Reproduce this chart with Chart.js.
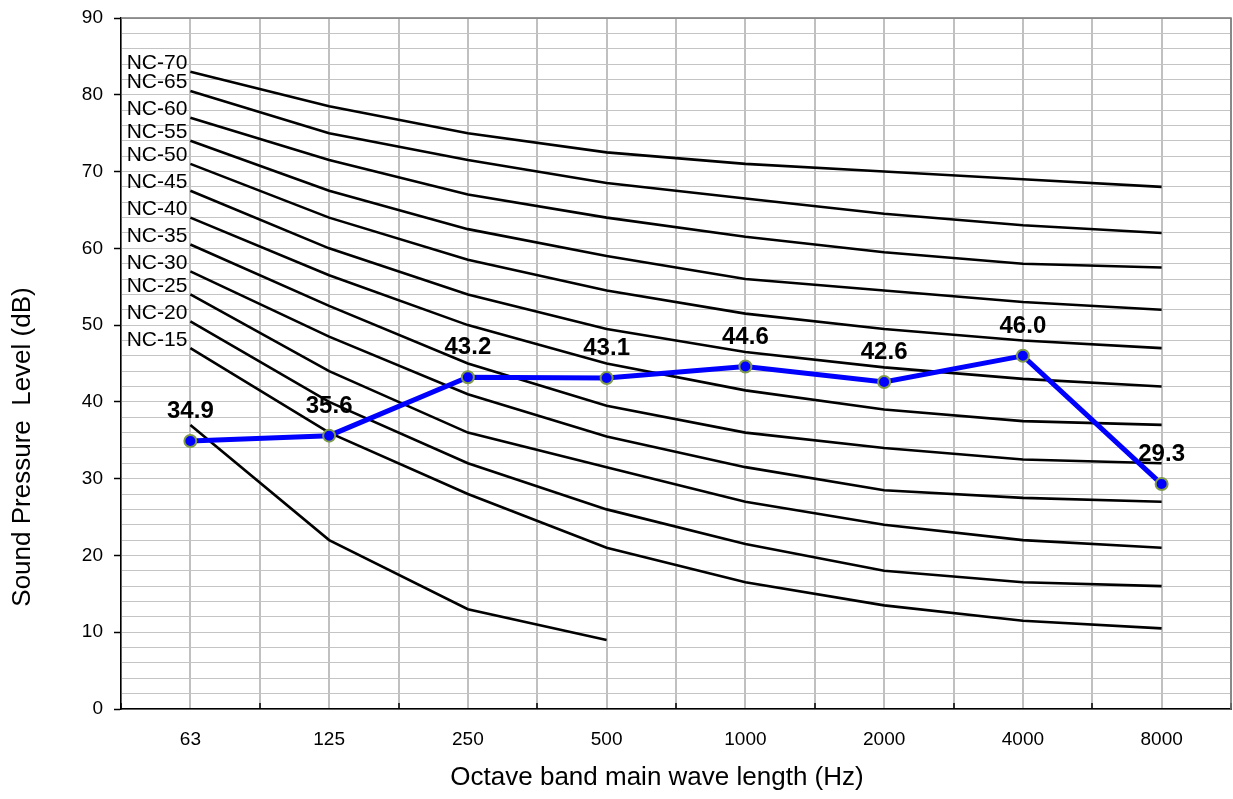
<!DOCTYPE html>
<html>
<head>
<meta charset="utf-8">
<script src="https://cdn.jsdelivr.net/npm/chart.js@4/dist/chart.umd.min.js"></script>
<style>
  html, body { margin: 0; padding: 0; background: #fff; }
  canvas { display: block; }
</style>
</head>
<body>
<canvas id="nc-chart" width="1233" height="799"></canvas>
<script>
// octave bands
const bands = ['63', '125', '250', '500', '1000', '2000', '4000', '8000'];

// measured level
const measured = [34.9, 35.6, 43.2, 43.1, 44.6, 42.6, 46.0, 29.3];

// NC reference curves
const ncNames = ['NC-70', 'NC-65', 'NC-60', 'NC-55', 'NC-50', 'NC-45', 'NC-40', 'NC-35', 'NC-30', 'NC-25', 'NC-20', 'NC-15'];
const nc70 = [83, 78.5, 75, 72.5, 71, 70, 69, 68];
const nc65 = [80.5, 75, 71.5, 68.5, 66.5, 64.5, 63, 62];
const nc60 = [77, 71.5, 67, 64, 61.5, 59.5, 58, 57.5];
const nc55 = [74, 67.5, 62.5, 59, 56, 54.5, 53, 52];
const nc50 = [71, 64, 58.5, 54.5, 51.5, 49.5, 48, 47];
const nc45 = [67.5, 60, 54, 49.5, 46.5, 44.5, 43, 42];
const nc40 = [64, 56.5, 50, 45, 41.5, 39, 37.5, 37];
const nc35 = [60.5, 52.5, 45, 39.5, 36, 34, 32.5, 32];
const nc30 = [57, 48.5, 41, 35.5, 31.5, 28.5, 27.5, 27];
const nc25 = [54, 44, 36, 31.5, 27, 24, 22, 21];
const nc20 = [50.5, 40, 32, 26, 21.5, 18, 16.5, 16];
const nc15 = [47, 36, 28, 21, 16.5, 13.5, 11.5, 10.5];
const lowCurve = [37, 22, 13, 9, null, null, null, null];

const ncCurves = [nc70, nc65, nc60, nc55, nc50, nc45, nc40, nc35, nc30, nc25, nc20, nc15];

const yTitle = 'Sound Pressure  Level (dB)';
const xTitle = 'Octave band main wave length (Hz)';

const FONT = 'Arial, "Liberation Sans", sans-serif';
Chart.defaults.font.family = FONT;
Chart.defaults.color = '#000';

const toPoints = arr => arr.map((v, i) => ({ x: i, y: v }));

const datasets = [{
  label: 'Measured',
  data: toPoints(measured),
  borderColor: '#0000ff',
  borderWidth: 5,
  pointRadius: 6,
  pointBorderWidth: 2,
  pointBackgroundColor: '#0000ff',
  pointBorderColor: '#7f9a48',
  tension: 0
}];

ncCurves.forEach((curve, i) => {
  datasets.push({
    label: ncNames[i],
    data: toPoints(curve),
    borderColor: '#000',
    borderWidth: 2.6,
    pointRadius: 0,
    tension: 0
  });
});

datasets.push({
  label: 'low',
  data: toPoints(lowCurve),
  borderColor: '#000',
  borderWidth: 2.6,
  pointRadius: 0,
  tension: 0
});

// frame on top and right side of plot, axis titles placed like the original
const framePlugin = {
  id: 'frame',
  beforeDatasetsDraw(chart) {
    const { ctx, chartArea: a } = chart;
    ctx.save();
    ctx.strokeStyle = '#777';
    ctx.lineWidth = 1.5;
    ctx.beginPath();
    ctx.moveTo(a.left, a.top);
    ctx.lineTo(a.right, a.top);
    ctx.lineTo(a.right, a.bottom);
    ctx.stroke();
    ctx.restore();
  },
  afterDraw(chart) {
    const { ctx, chartArea: a } = chart;
    ctx.save();
    ctx.font = '26px ' + FONT;
    ctx.fillStyle = '#000';
    ctx.textAlign = 'center';
    ctx.textBaseline = 'middle';
    ctx.fillText(xTitle, (a.left + a.right) / 2 - 19, a.bottom + 69);
    ctx.translate(23, a.bottom - 262);
    ctx.rotate(-Math.PI / 2);
    ctx.fillText(yTitle, 0, 0);
    ctx.restore();
  }
};

// value labels above measured points + NC names at the start of each curve
const labelPlugin = {
  id: 'labels',
  afterDatasetsDraw(chart) {
    const ctx = chart.ctx;
    ctx.save();
    ctx.fillStyle = '#000';

    ctx.font = 'bold 24px ' + FONT;
    ctx.textAlign = 'center';
    ctx.textBaseline = 'alphabetic';
    chart.getDatasetMeta(0).data.forEach((pt, i) => {
      ctx.fillText(measured[i].toFixed(1), pt.x, pt.y - 23);
    });

    ctx.font = '21px ' + FONT;
    ctx.textAlign = 'right';
    ncNames.forEach((name, i) => {
      const pt = chart.getDatasetMeta(i + 1).data[0];
      ctx.fillText(name, pt.x - 3, pt.y - 2.5);
    });
    ctx.restore();
  }
};

new Chart(document.getElementById('nc-chart'), {
  type: 'line',
  data: { datasets: datasets },
  options: {
    responsive: false,
    animation: false,
    layout: { autoPadding: false, padding: { top: 18, right: 2, left: 0, bottom: 0 } },
    plugins: {
      legend: { display: false },
      tooltip: { enabled: false }
    },
    scales: {
      x: {
        type: 'linear',
        min: -0.5,
        max: 7.5,
        afterFit: scale => {
          scale.height = 90;
          scale.paddingLeft = 0;
          scale.paddingRight = 0;
        },
        afterBuildTicks: scale => {
          scale.ticks = [];
          for (let v = -0.5; v <= 7.5; v += 0.5) scale.ticks.push({ value: v });
        },
        ticks: {
          autoSkip: false,
          maxRotation: 0,
          padding: 25,
          font: { size: 19 },
          callback: v => Number.isInteger(v) ? bands[v] : ''
        },
        grid: {
          color: '#c0c0c0',
          lineWidth: 2,
          tickLength: -6,
          tickColor: ctx => (ctx.tick && !Number.isInteger(ctx.tick.value)) ? '#000' : 'rgba(0,0,0,0)',
          tickWidth: 1.5
        },
        border: { color: '#000', width: 1.5 }
      },
      y: {
        min: 0,
        max: 90,
        afterFit: scale => {
          scale.width = 121;
          scale.paddingTop = 0;
          scale.paddingBottom = 0;
        },
        ticks: {
          stepSize: 2,
          autoSkip: false,
          padding: 11,
          font: { size: 19 },
          callback: v => v % 10 === 0 ? v : ''
        },
        grid: {
          color: '#c4c4c4',
          lineWidth: 1,
          borderDash: [2, 2],
          tickLength: 7,
          tickColor: ctx => (ctx.tick && ctx.tick.value % 10 === 0) ? '#000' : 'rgba(0,0,0,0)',
          tickBorderDash: [],
          tickWidth: 1.5
        },
        border: { color: '#000', width: 1.5 }
      }
    }
  },
  plugins: [framePlugin, labelPlugin]
});
</script>
</body>
</html>
